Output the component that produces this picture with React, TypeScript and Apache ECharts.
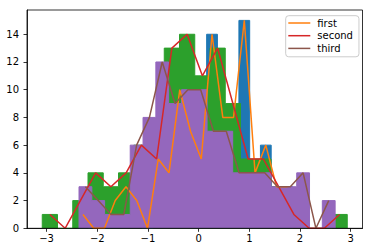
import React, { useEffect, useRef } from "react";
import * as echarts from "echarts";

// Histogram bin ranges (min, max of each data set) and counts per bin (20 bins each)
const blueRange = [-2.388, 1.855];
const greenRange = [-3.085, 2.931];
const purpleRange = [-2.36, 2.692];

const blueCounts = [1, 0, 0, 2, 3, 2, 0, 5, 4, 10, 7, 5, 14, 8, 8, 15, 4, 6, 3, 3];
const greenCounts = [1, 0, 2, 4, 3, 4, 6, 5, 13, 14, 11, 13, 9, 5, 5, 3, 1, 0, 0, 1];
const purpleCounts = [3, 2, 1, 1, 6, 8, 12, 9, 10, 10, 7, 7, 4, 4, 4, 3, 3, 4, 0, 2];

const lineNames = ["first", "second", "third"];
const xTicks = [-3, -2, -1, 0, 1, 2, 3];
const yTicks = [0, 2, 4, 6, 8, 10, 12, 14];

const histColors = ["#1f77b4", "#2ca02c", "#9467bd"];
const lineColors = ["#ff7f0e", "#d62728", "#8c564b"];

function edgesOf(range: number[], n: number) {
  const w = (range[1] - range[0]) / n;
  const e: number[] = [];
  for (let i = 0; i <= n; i++) e.push(range[0] + i * w);
  return e;
}

function stepData(range: number[], counts: number[]) {
  const e = edgesOf(range, counts.length);
  const d: number[][] = [[e[0], 0]];
  counts.forEach((c, i) => d.push([e[i], c]));
  d.push([e[counts.length], counts[counts.length - 1]]);
  d.push([e[counts.length], 0]);
  return d;
}

function centerData(range: number[], counts: number[]) {
  const e = edgesOf(range, counts.length);
  return counts.map((c, i) => [(e[i] + e[i + 1]) / 2, c]);
}

const fmtMinus = (v: number) => String(v).replace("-", "\u2212");

export default function App() {
  const ref = useRef<HTMLDivElement>(null);
  useEffect(() => {
    if (!ref.current) return;
    const chart = echarts.init(ref.current, null, { renderer: "svg" });
    const ranges = [blueRange, greenRange, purpleRange];
    const counts = [blueCounts, greenCounts, purpleCounts];
    const allMin = Math.min(...ranges.map((r) => r[0]));
    const allMax = Math.max(...ranges.map((r) => r[1]));
    const pad = (allMax - allMin) * 0.05;
    const yMax = Math.max(...counts.flat()) * 1.05;
    const font = "DejaVu Sans";

    const histSeries = ranges.map((r, i) => ({
      type: "line",
      name: "hist" + i,
      step: "end",
      data: stepData(r, counts[i]),
      symbol: "none",
      z: 1 + i,
      lineStyle: { color: histColors[i], width: 1 },
      itemStyle: { color: histColors[i] },
      areaStyle: { color: histColors[i], opacity: 1 },
      silent: true,
    }));
    const lineSeries = ranges.map((r, i) => ({
      type: "line",
      name: lineNames[i],
      data: centerData(r, counts[i]),
      symbol: "none",
      showSymbol: false,
      z: 6,
      lineStyle: { color: lineColors[i], width: 1.5 },
      itemStyle: { color: lineColors[i] },
    }));

    chart.setOption({
      animation: false,
      grid: {
        left: 27,
        top: 10,
        width: 335.5,
        height: 218.3,
        show: true,
        borderColor: "#000",
        borderWidth: 0.8,
        backgroundColor: "transparent",
        z: 8,
      },
      legend: {
        data: lineNames,
        icon: "path://M0,0L22,0L22,1.5L0,1.5Z",
        symbolKeepAspect: true,
        orient: "vertical",
        left: 285.7,
        top: 15.7,
        itemWidth: 22,
        itemHeight: 12,
        itemGap: 2.7,
        padding: [2.3, 6, 3.4, 2.6],
        backgroundColor: "rgba(255,255,255,0.8)",
        borderColor: "#cccccc",
        borderWidth: 1,
        borderRadius: 3,
        textStyle: { fontSize: 10, fontFamily: font, color: "#000", padding: [0, 0, 0, 2] },
      },
      xAxis: {
        type: "value",
        min: allMin - pad,
        max: allMax + pad,
        axisLine: { show: true, onZero: false, lineStyle: { color: "#000", width: 0.8 } },
        axisTick: { show: true, customValues: xTicks, length: 3.5, lineStyle: { color: "#000", width: 0.8 } },
        axisLabel: {
          customValues: xTicks,
          formatter: fmtMinus,
          fontSize: 10,
          fontFamily: font,
          color: "#000",
          margin: 5,
        },
        splitLine: { show: false },
      },
      yAxis: {
        type: "value",
        min: 0,
        max: yMax,
        axisLine: { show: true, onZero: false, lineStyle: { color: "#000", width: 0.8 } },
        axisTick: { show: true, customValues: yTicks, length: 3.5, lineStyle: { color: "#000", width: 0.8 } },
        axisLabel: {
          customValues: yTicks,
          formatter: fmtMinus,
          fontSize: 10,
          fontFamily: font,
          color: "#000",
          margin: 8,
        },
        splitLine: { show: false },
      },
      series: [...histSeries, ...lineSeries],
    });
    return () => chart.dispose();
  }, []);
  return (
    <div
      ref={ref}
      style={{ position: "fixed", left: 0, top: 0, width: 372, height: 252, background: "#fff" }}
    />
  );
}
